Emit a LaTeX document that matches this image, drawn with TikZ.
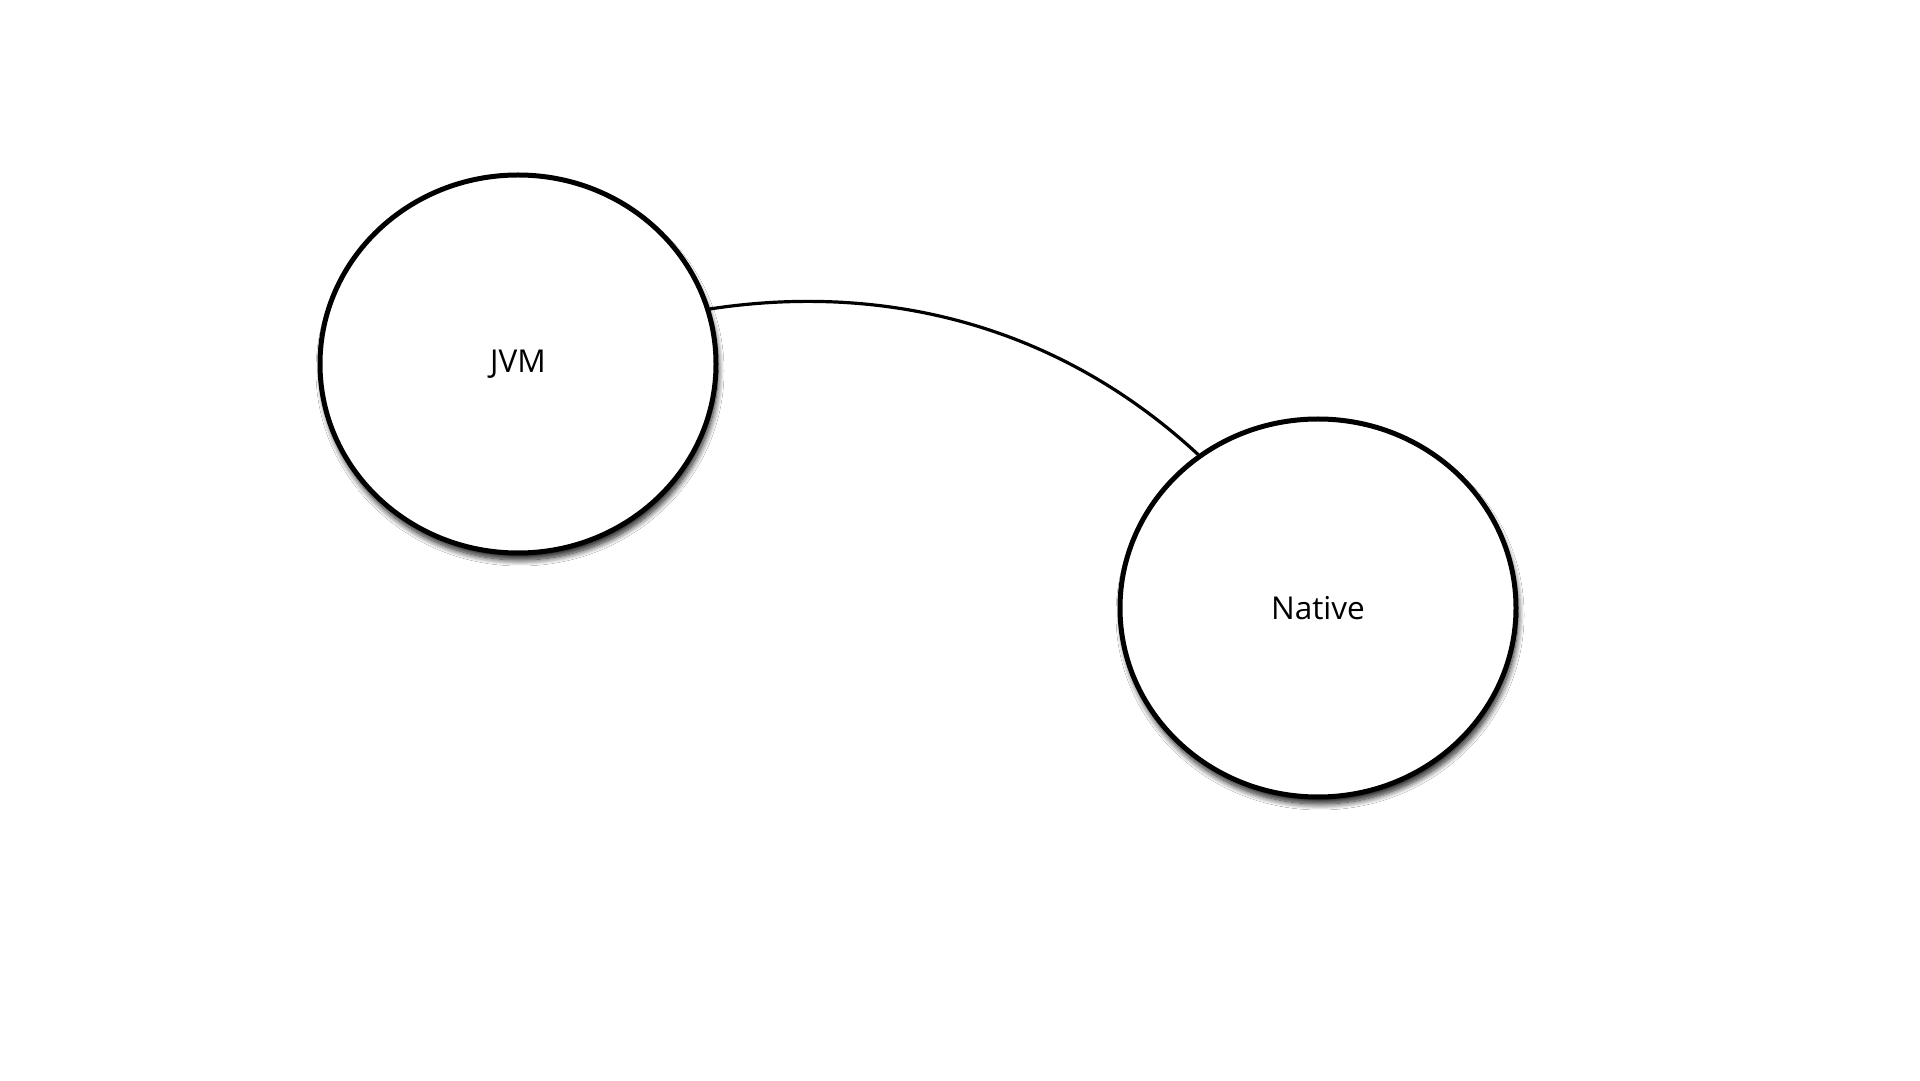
\documentclass[tikz,border=0pt]{standalone}
\usepackage{fontspec}
\setmainfont{Open Sans}
\usetikzlibrary{shapes.geometric,shadows.blur}
\begin{document}
\begin{tikzpicture}[x=1pt,y=1pt,
  bubble/.style={ellipse, draw=black, line width=5pt, fill=white, inner sep=0pt,
    minimum width=396pt, minimum height=378pt,
    font=\fontsize{31.5}{38}\selectfont,
    blur shadow={shadow xshift=2pt, shadow yshift=-7pt, shadow blur radius=6pt, shadow blur steps=12, shadow opacity=90}},
  link/.style={draw=black, line width=3.2pt}]
\useasboundingbox (0,0) rectangle (1920,1080);
\fill[white] (0,0) rectangle (1920,1080);
\node[bubble] (jvm) at (518,716) {\raisebox{-2pt}{JVM}};
\node[bubble] (native) at (1318,472) {\raisebox{-2pt}{Native}};
\draw[link] (jvm.16) .. controls (880,797) and (1055,758) .. (native.128);
\end{tikzpicture}
\end{document}
